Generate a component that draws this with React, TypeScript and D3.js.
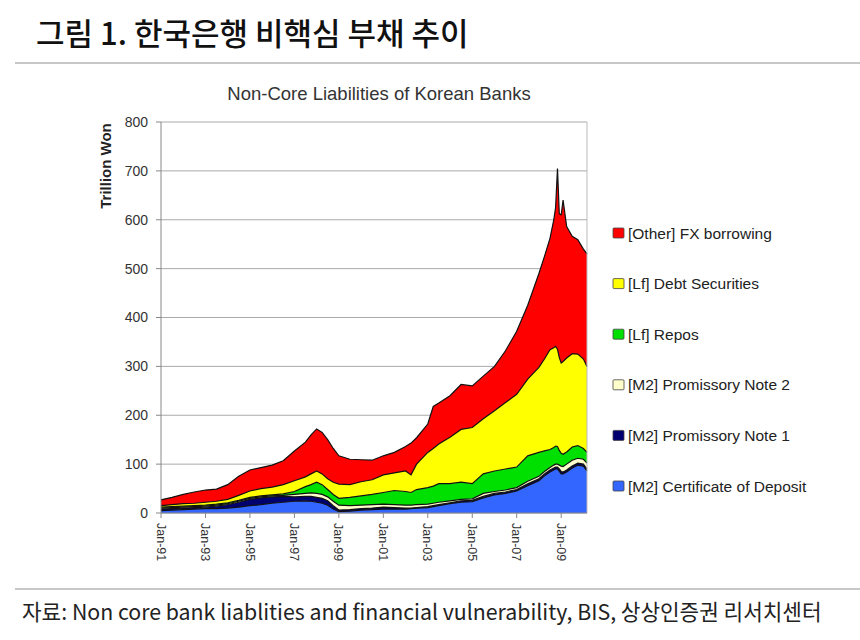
import * as d3 from 'd3'
import { useEffect } from 'react'

// month of each observation
const dates = [
  '1991-01', '1991-07', '1992-01', '1992-07', '1993-01', '1993-07', '1994-01', '1994-07',
  '1995-01', '1995-07', '1996-01', '1996-07', '1997-01', '1997-07', '1997-10', '1998-01',
  '1998-04', '1998-07', '1998-10', '1999-01', '1999-07', '2000-01', '2000-07', '2001-01',
  '2001-07', '2002-01', '2002-04', '2002-07', '2003-01', '2003-04', '2003-07', '2004-01',
  '2004-07', '2005-01', '2005-07', '2006-01', '2006-07', '2007-01', '2007-07', '2008-01',
  '2008-04', '2008-07', '2008-09', '2008-10', '2008-11', '2008-12', '2009-01', '2009-02',
  '2009-04', '2009-07', '2009-10', '2010-01', '2010-03',
]

// trillion won
const certDeposit = [5, 6, 7, 8, 9, 9, 10, 12, 15, 17, 20, 22, 24, 25, 24, 22, 20, 16, 8, 3, 4, 6, 7, 8, 8, 8, 9, 10, 11, 13, 15, 19, 22, 23, 31, 37, 40, 45, 56, 66, 76, 84, 88, 90, 90, 85, 80, 80, 84, 92, 98, 96, 86]
const promNote1 = [3, 3, 3, 3, 3, 5, 7, 10, 13, 14, 13, 12, 9, 9, 10, 10, 10, 9, 7, 3, 3, 3, 3, 4, 3, 2, 1, 1, 2, 2, 2, 2, 3, 3, 3, 3, 3, 3, 4, 4, 4, 4, 4, 4, 4, 5, 5, 4, 4, 4, 4, 4, 4]
const promNote2 = [2, 2, 2, 2, 2, 2, 2, 2, 2, 2, 2, 2, 5, 6, 7, 8, 8, 8, 9, 10, 8, 7, 7, 6, 6, 6, 6, 6, 5, 5, 5, 4, 3, 3, 6, 4, 4, 4, 5, 5, 5, 5, 6, 6, 6, 8, 11, 11, 12, 12, 10, 10, 12]
const repos = [2, 2, 2, 2, 2, 2, 2, 2, 2, 2, 2, 3, 6, 14, 17, 23, 20, 15, 14, 14, 17, 19, 21, 24, 29, 28, 26, 31, 34, 35, 38, 35, 35, 31, 40, 42, 43, 42, 52, 49, 42, 37, 36, 37, 36, 30, 26, 25, 25, 27, 26, 22, 22]
const debtSec = [3, 4, 5, 5, 6, 6, 7, 10, 13, 15, 16, 19, 22, 20, 22, 23, 22, 22, 25, 29, 26, 29, 30, 36, 36, 42, 36, 52, 72, 77, 81, 95, 108, 115, 113, 123, 136, 149, 157, 174, 188, 204, 204, 204, 199, 190, 185, 190, 192, 191, 187, 183, 176]
const fxBorrow = [12, 15, 19, 23, 25, 25, 30, 39, 43, 43, 45, 49, 61, 71, 80, 86, 85, 80, 69, 58, 52, 45, 40, 39, 42, 50, 65, 54, 58, 86, 84, 85, 92, 85, 87, 91, 106, 129, 151, 192, 210, 228, 262, 284, 370, 294, 303, 330, 269, 240, 234, 225, 230]

const keys = ['cd', 'pn1', 'pn2', 'repos', 'debt', 'fx']
const names = [
  '[M2] Certificate of Deposit',
  '[M2] Promissory Note 1',
  '[M2] Promissory Note 2',
  '[Lf] Repos',
  '[Lf] Debt Securities',
  '[Other] FX borrowing',
]
const colors = ['#3366ff', '#000070', '#ffffcc', '#00e000', '#ffff00', '#ff0000']
const yTicks = [0, 100, 200, 300, 400, 500, 600, 700, 800]

export default function App() {
  useEffect(() => {
    document.body.style.margin = '0'
  }, [])

  const width = 860, height = 640
  // plot area
  const left = 161, right = 587, top = 122, bottom = 513

  const parse = d3.timeParse('%Y-%m')
  const rows = dates.map((d, i) => ({
    date: parse(d) as Date,
    cd: certDeposit[i],
    pn1: promNote1[i],
    pn2: promNote2[i],
    repos: repos[i],
    debt: debtSec[i],
    fx: fxBorrow[i],
  }))

  const x = d3.scaleTime()
    .domain([parse('1991-01') as Date, parse('2010-03') as Date])
    .range([left, right])
  const y = d3.scaleLinear().domain([0, 800]).range([bottom, top])

  //@ts-ignore
  const layers = d3.stack().keys(keys)(rows)

  const area = d3.area<any>()
    .x(d => x(d.data.date))
    .y0(d => y(d[0]))
    .y1(d => y(d[1]))
  const edge = d3.line<any>()
    .x(d => x(d.data.date))
    .y(d => y(d[1]))

  const xTicks = d3.timeYear.range(parse('1991-01') as Date, parse('2010-02') as Date, 2)
  const fmt = d3.timeFormat('Jan-%y')

  const chartFont = '"Liberation Sans", Arial, sans-serif'
  const krFont = '"Noto Sans CJK KR", sans-serif'

  return (
    <svg width={width} height={height} style={{ display: 'block', background: '#fff' }}>
      {/* heading */}
      <text x={36} y={45} fontFamily={krFont} fontSize={31} fontWeight={500} fill="#111">
        그림 1. 한국은행 비핵심 부채 추이
      </text>
      <line x1={15} x2={860} y1={63} y2={63} stroke="#b5b5b5" strokeWidth={1.5} />

      <text x={379} y={100} textAnchor="middle" fontFamily={chartFont} fontSize={18.5} fill="#333">
        Non-Core Liabilities of Korean Banks
      </text>

      {/* grid */}
      {yTicks.map(t => (
        <g key={t}>
          <line x1={left} x2={right} y1={y(t)} y2={y(t)} stroke="#aaa" strokeWidth={1} />
          <line x1={left - 5} x2={left} y1={y(t)} y2={y(t)} stroke="#888" />
          <text x={148} y={y(t)} dy="0.35em" textAnchor="end" fontFamily={chartFont} fontSize={14} fill="#333">
            {t}
          </text>
        </g>
      ))}

      {/* stacked areas */}
      {layers.map((s, i) => (
        <path key={keys[i]} d={area(s as any) || ''} fill={colors[i]} />
      ))}
      {layers.map((s, i) => (
        <path key={'e' + keys[i]} d={edge(s as any) || ''} fill="none" stroke="#111" strokeWidth={1.2} />
      ))}

      {/* plot frame */}
      <line x1={right} x2={right} y1={top} y2={bottom} stroke="#bbb" />
      <line x1={left} x2={left} y1={top} y2={bottom} stroke="#888" />
      <line x1={left} x2={right} y1={bottom} y2={bottom} stroke="#888" />

      {xTicks.map(t => (
        <g key={+t}>
          <line x1={x(t)} x2={x(t)} y1={bottom} y2={bottom + 5} stroke="#888" />
          <text
            transform={`translate(${x(t)},${bottom + 10}) rotate(90)`}
            dy="0.35em"
            fontFamily={chartFont}
            fontSize={12.5}
            fill="#333"
          >
            {fmt(t)}
          </text>
        </g>
      ))}

      <text
        transform={`translate(111,166) rotate(-90)`}
        textAnchor="middle"
        fontFamily={chartFont}
        fontSize={15}
        fontWeight={700}
        fill="#222"
      >
        Trillion Won
      </text>

      {/* legend, top to bottom is reverse stack order */}
      {names.map((n, i) => {
        const row = names.length - 1 - i
        const cy = 233 + row * 50.6
        return (
          <g key={n}>
            <rect x={613} y={cy - 5} width={11} height={10} rx={1} fill={colors[i]} stroke="#444" strokeWidth={0.8} />
            <text x={628} y={cy} dy="0.36em" fontFamily={chartFont} fontSize={15.5} fill="#222">
              {n}
            </text>
          </g>
        )
      })}

      {/* source */}
      <line x1={15} x2={860} y1={589} y2={589} stroke="#b5b5b5" strokeWidth={1.5} />
      <text x={22} y={620} fontFamily={krFont} fontSize={21.3} fill="#222">
        자료: Non core bank liablities and financial vulnerability, BIS, 상상인증권 리서치센터
      </text>
    </svg>
  )
}
